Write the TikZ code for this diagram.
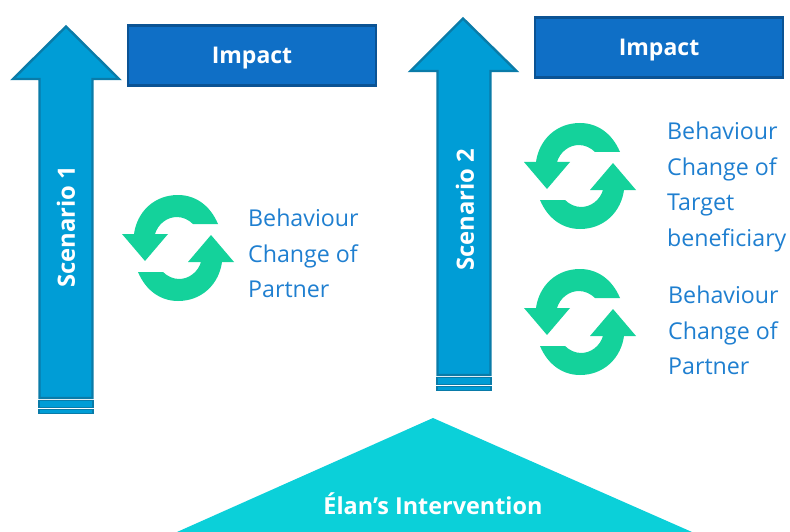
\documentclass[tikz,border=0pt]{standalone}
\usepackage{fontspec}
\setmainfont{Open Sans}
\definecolor{arrowfill}{HTML}{009DD6}
\definecolor{arrowline}{HTML}{0A7BA8}
\definecolor{boxfill}{HTML}{0F6FC6}
\definecolor{boxline}{HTML}{0B5394}
\definecolor{cyclegreen}{HTML}{14D29B}
\definecolor{labelblue}{HTML}{1F7FD0}
\definecolor{tealfill}{HTML}{0BD0D9}
\tikzset{
  upshaft/.style={fill=arrowfill,draw=arrowline,line width=2.4pt,line join=miter},
  band/.style={fill=arrowfill,draw=arrowline,line width=1.6pt},
  impactbox/.style={fill=boxfill,draw=boxline,line width=2.4pt,minimum width=248pt,minimum height=60pt,inner sep=0pt,text=white,text height=20pt,text depth=4.8pt,font=\bfseries\fontsize{23}{26}\selectfont},
  vlabel/.style={rotate=90,text=white,font=\bfseries\fontsize{23.8}{26}\selectfont,inner sep=0pt},
  bluetext/.style={text=labelblue,font=\fontsize{23.2}{35.5}\selectfont,align=left,anchor=north west,inner sep=0pt},
  halfcycle/.pic={
    \fill[cyclegreen] (40,-24) .. controls (32,-43) and (17,-53) .. (0,-53)
      .. controls (-24,-53) and (-41,-36) .. (-44,-14)
      -- (-56,-14) -- (-33,13) -- (-10,-14) -- (-23,-14)
      .. controls (-20,-24) and (-11,-31) .. (-1,-31)
      .. controls (5,-31) and (11,-28) .. (15,-24) -- cycle;
  },
  cycleicon/.pic={
    \pic {halfcycle};
    \pic[rotate=180] {halfcycle};
  }
}
\begin{document}
\begin{tikzpicture}[x=1pt,y=-1pt]
\useasboundingbox (0,0) rectangle (790,532);
% Arrow 1
\draw[upshaft] (66,26.5) -- (119,79) -- (92.5,79) -- (92.5,398) -- (39.5,398) -- (39.5,79) -- (13,79) -- cycle;
\draw[band] (39.2,400.6) rectangle (92.8,407.6);
\draw[band] (39.2,409.6) rectangle (92.8,413.6);
\node[vlabel] (s1) at (66,226.5) {Scenario 1};
% Arrow 2
\draw[upshaft] (463,18.5) -- (516.5,71) -- (490.5,71) -- (490.5,375) -- (437.5,375) -- (437.5,71) -- (410.5,71) -- cycle;
\draw[band] (437.2,377.6) rectangle (490.8,384.6);
\draw[band] (437.2,386.6) rectangle (490.8,390.6);
\node[vlabel] (s2) at (465,210) {Scenario 2};
% Impact boxes
\node[impactbox] (i1) at (252,55.5) {Impact};
\node[impactbox] (i2) at (659,47.5) {Impact};
% Cycle icons
\pic at (178,248) {cycleicon};
\pic at (580,176) {cycleicon};
\pic at (580,322) {cycleicon};
% Labels
\node[bluetext] (t1) at (248,209) {Behaviour\\Change of\\Partner};
\node[bluetext] (t2) at (667,122) {Behaviour\\Change of\\Target\\beneficiary};
\node[bluetext] (t3) at (668,286) {Behaviour\\Change of\\Partner};
% Intervention
\begin{scope}
\clip (0,0) rectangle (790,532);
\fill[tealfill] (433,418) -- (692,532) -- (177,532) -- cycle;
\end{scope}
\node[text=white,font=\bfseries\fontsize{23.4}{26}\selectfont,inner sep=0pt] (el) at (433,504) {Élan’s Intervention};
\end{tikzpicture}
\end{document}
